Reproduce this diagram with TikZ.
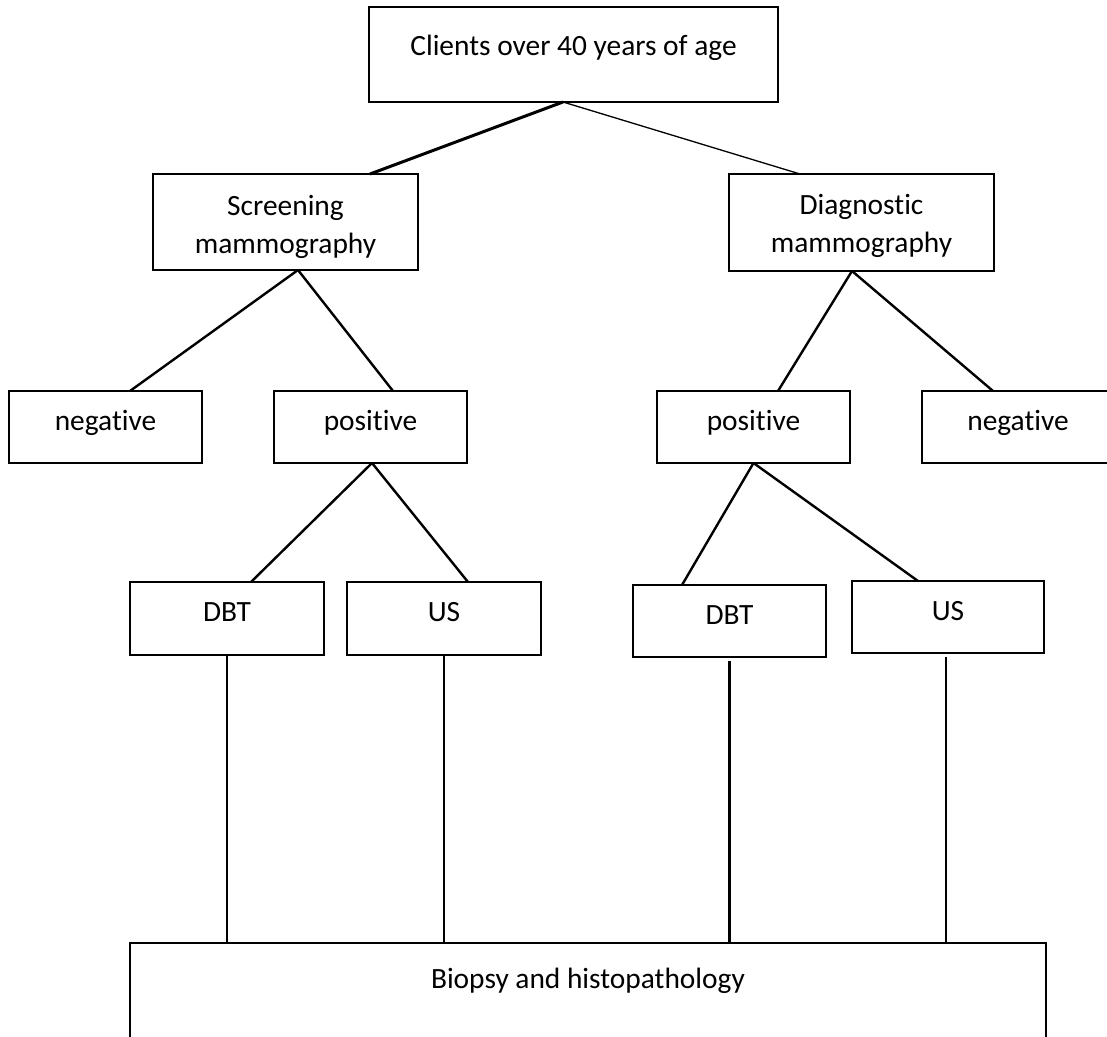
\documentclass[tikz,border=0pt]{standalone}
\usepackage{fontspec}
\setmainfont[Ligatures=NoCommon]{Carlito}
\begin{document}
\begin{tikzpicture}[x=1pt,y=-1pt,
  box/.style={draw, line width=2.8pt, inner sep=0pt, outer sep=0pt,
    font=\fontsize{29.4}{38}\selectfont, align=center,
    text height=20pt, text depth=14pt},
  conn/.style={line width=2.4pt},
  thickconn/.style={line width=3pt},
  thinconn/.style={line width=1.3pt}]
\useasboundingbox (0,0) rectangle (1107,1036);

\node[box, minimum width=409pt, minimum height=95pt, text height=20pt, text depth=18pt] (top) at (573.5,54.5) {Clients over 40 years of age};

\node[box, minimum width=265pt, minimum height=96pt, text height=70pt, text depth=8pt] (scr) at (285.5,222) {Screening\\mammography};
\node[box, minimum width=265pt, minimum height=97pt, text height=68pt, text depth=8pt] (dia) at (861.5,222.5) {Diagnostic\\mammography};

\node[box, minimum width=193pt, minimum height=72pt] (negl) at (105.5,427) {negative};
\node[box, minimum width=193pt, minimum height=72pt] (posl) at (370.5,427) {positive};
\node[box, minimum width=193pt, minimum height=72pt] (posr) at (753.5,427) {positive};
\node[box, minimum width=192pt, minimum height=72pt] (negr) at (1018,427) {negative};

\node[box, minimum width=194pt, minimum height=73pt] (dbtl) at (227,618.5) {DBT};
\node[box, minimum width=194pt, minimum height=73pt] (usl) at (444,618.5) {US};
\node[box, minimum width=193pt, minimum height=72pt] (dbtr) at (729.5,621) {DBT};
\node[box, minimum width=192pt, minimum height=72pt] (usr) at (948,617) {US};

\node[box, minimum width=916pt, minimum height=137pt, text height=20pt, text depth=67pt] (bio) at (588,1011.5) {Biopsy and histopathology};

% connectors
\draw[thickconn] ([xshift=-10.5pt]top.south) -- ([xshift=84.5pt]scr.north);
\draw[thinconn] ([xshift=-10.5pt]top.south) -- ([xshift=-61.5pt]dia.north);

\draw[conn] ([xshift=12.5pt]scr.south) -- ([xshift=24.5pt]negl.north);
\draw[conn] ([xshift=12.5pt]scr.south) -- ([xshift=22.5pt]posl.north);

\draw[conn] ([xshift=-9.5pt]dia.south) -- ([xshift=24.5pt]posr.north);
\draw[conn] ([xshift=-9.5pt]dia.south) -- ([xshift=-25pt]negr.north);

\draw[conn] ([xshift=1.5pt]posl.south) -- ([xshift=24pt]dbtl.north);
\draw[conn] ([xshift=1.5pt]posl.south) -- ([xshift=24pt]usl.north);

\draw[conn] (posr.south) -- ([xshift=-47.5pt]dbtr.north);
\draw[conn] (posr.south) -- ([xshift=-30pt]usr.north);

\draw[conn] (dbtl.south) -- (dbtl.south |- bio.north);
\draw[conn] (usl.south) -- (usl.south |- bio.north);
\draw[conn] ([yshift=-4pt]dbtr.south) -- (dbtr.south |- bio.north);
\draw[conn] ([xshift=-2pt,yshift=-4pt]usr.south) -- ([xshift=-2pt]usr.south |- bio.north);
\end{tikzpicture}
\end{document}
